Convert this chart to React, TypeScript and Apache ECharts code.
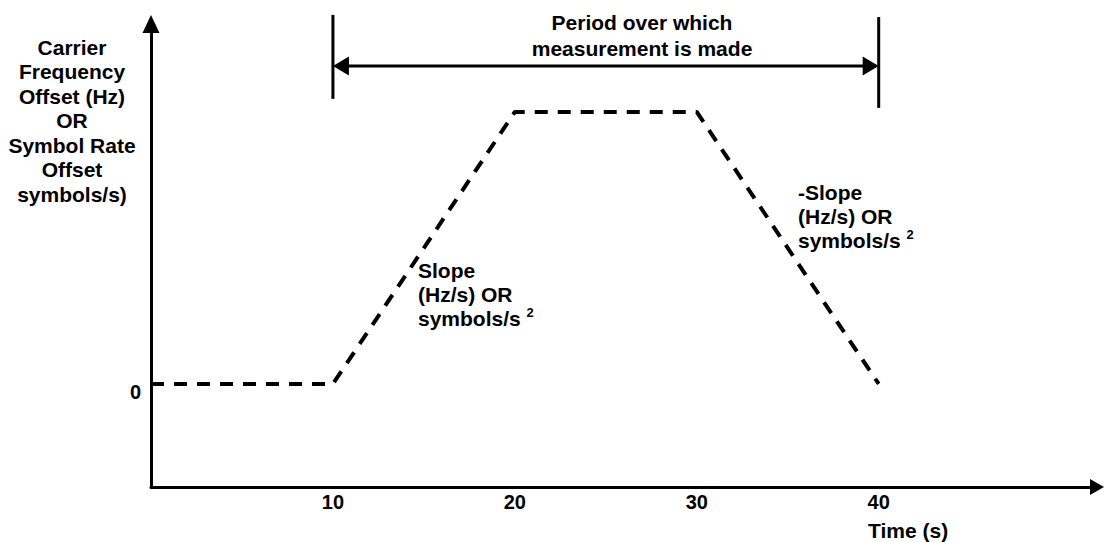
import React, { useEffect, useRef } from "react";
import * as echarts from "echarts";

// Data (arbitrary units for the offset; plateau = 1)
const timeValues = [0, 10, 20, 30, 40];
const offsetValues = [0, 0, 1, 1, 0];
const xTickValues = [10, 20, 30, 40];
const yTickValues = [0];
const periodStart = 10;
const periodEnd = 40;
const periodArrowLevel = 1.169;
const leftMarkerRange = [1.357, 1.048];
const rightMarkerRange = [1.349, 1.015];

const FONT = '"Liberation Sans", Arial, Helvetica, sans-serif';

export default function App() {
  const ref = useRef<HTMLDivElement>(null);

  useEffect(() => {
    const chart = echarts.init(ref.current!, null, { renderer: "svg" });

    const textBase = {
      fontFamily: FONT,
      fontWeight: "bold",
      fontSize: 21,
      fill: "#000",
    };

    const slopeRich = {
      a: { fontFamily: FONT, fontWeight: "bold", fontSize: 21, lineHeight: 24, color: "#000" },
      b: { fontFamily: FONT, fontWeight: "bold", fontSize: 13, lineHeight: 14, color: "#000", verticalAlign: "top" },
    };

    chart.setOption({
      animation: false,
      backgroundColor: "#fff",
      grid: { left: 151, top: 24, right: 7, bottom: 55, outerBoundsMode: "none", containLabel: false },
      xAxis: {
        type: "value",
        min: 0,
        max: 52,
        axisLine: {
          show: true,
          onZero: false,
          symbol: ["none", "triangle"],
          symbolSize: [16, 14],
          lineStyle: { color: "#000", width: 3 },
        },
        axisTick: { show: false },
        splitLine: { show: false },
        axisLabel: {
          customValues: xTickValues,
          color: "#000",
          fontSize: 20,
          fontWeight: "bold",
          fontFamily: FONT,
          margin: 5,
        },
      },
      yAxis: {
        type: "value",
        min: -0.379,
        max: 1.3235,
        axisLine: {
          show: true,
          onZero: false,
          symbol: ["none", "triangle"],
          symbolSize: [17, 18],
          lineStyle: { color: "#000", width: 3 },
        },
        axisTick: { show: false },
        splitLine: { show: false },
        axisLabel: {
          customValues: yTickValues,
          color: "#000",
          fontSize: 20,
          fontWeight: "bold",
          fontFamily: FONT,
          margin: 10,
          verticalAlign: "top",
          lineHeight: 16,
        },
      },
      series: [
        {
          type: "line",
          data: timeValues.map((t, i) => [t, offsetValues[i]]),
          symbol: "none",
          silent: true,
          lineStyle: { color: "#000", width: 4, type: [13, 10] },
        },
        {
          type: "line",
          data: leftMarkerRange.map((v) => [periodStart, v]),
          symbol: "none",
          silent: true,
          clip: false,
          lineStyle: { color: "#000", width: 3, type: "solid" },
        },
        {
          type: "line",
          data: rightMarkerRange.map((v) => [periodEnd, v]),
          symbol: "none",
          silent: true,
          clip: false,
          lineStyle: { color: "#000", width: 3, type: "solid" },
        },
      ],
    });

    // Double-headed arrow for the measurement period, placed through the axes' scales
    const p1 = chart.convertToPixel({ gridIndex: 0 }, [periodStart, periodArrowLevel]) as number[];
    const p2 = chart.convertToPixel({ gridIndex: 0 }, [periodEnd, periodArrowLevel]) as number[];
    const headLen = 16;
    const headHalf = 9.5;

    chart.setOption({
      graphic: [
        {
          id: "periodLine",
          type: "line",
          silent: true,
          shape: { x1: p1[0] + headLen - 2, y1: p1[1], x2: p2[0] - headLen + 2, y2: p2[1] },
          style: { stroke: "#000", lineWidth: 3 },
        },
        {
          id: "periodHeadL",
          type: "polygon",
          silent: true,
          shape: {
            points: [
              [p1[0], p1[1]],
              [p1[0] + headLen, p1[1] - headHalf],
              [p1[0] + headLen, p1[1] + headHalf],
            ],
          },
          style: { fill: "#000" },
        },
        {
          id: "periodHeadR",
          type: "polygon",
          silent: true,
          shape: {
            points: [
              [p2[0], p2[1]],
              [p2[0] - headLen, p2[1] - headHalf],
              [p2[0] - headLen, p2[1] + headHalf],
            ],
          },
          style: { fill: "#000" },
        },
        {
          id: "yName",
          type: "text",
          x: 72,
          y: 35,
          silent: true,
          style: {
            ...textBase,
            text: "Carrier\nFrequency\nOffset (Hz)\nOR\nSymbol Rate\nOffset\nsymbols/s)",
            align: "center",
            verticalAlign: "top",
            lineHeight: 24.5,
          },
        },
        {
          id: "periodText",
          type: "text",
          x: 642,
          y: 9,
          silent: true,
          style: {
            ...textBase,
            text: "Period over which\nmeasurement is made",
            align: "center",
            verticalAlign: "top",
            lineHeight: 26,
          },
        },
        {
          id: "slopeUp",
          type: "text",
          x: 418,
          y: 258,
          silent: true,
          style: {
            ...textBase,
            text: "{a|Slope}\n{a|(Hz/s) OR}\n{a|symbols/s} {b|2}",
            rich: slopeRich,
            align: "left",
            verticalAlign: "top",
            lineHeight: 24,
          },
        },
        {
          id: "slopeDown",
          type: "text",
          x: 798,
          y: 180,
          silent: true,
          style: {
            ...textBase,
            text: "{a|-Slope}\n{a|(Hz/s) OR}\n{a|symbols/s} {b|2}",
            rich: slopeRich,
            align: "left",
            verticalAlign: "top",
            lineHeight: 24,
          },
        },
        {
          id: "xName",
          type: "text",
          x: 868,
          y: 518,
          silent: true,
          style: {
            ...textBase,
            text: "Time (s)",
            align: "left",
            verticalAlign: "top",
            lineHeight: 24,
          },
        },
      ],
    });

    return () => chart.dispose();
  }, []);

  return (
    <div
      ref={ref}
      style={{ position: "absolute", left: 0, top: 0, width: 1104, height: 542, background: "#fff" }}
    />
  );
}
